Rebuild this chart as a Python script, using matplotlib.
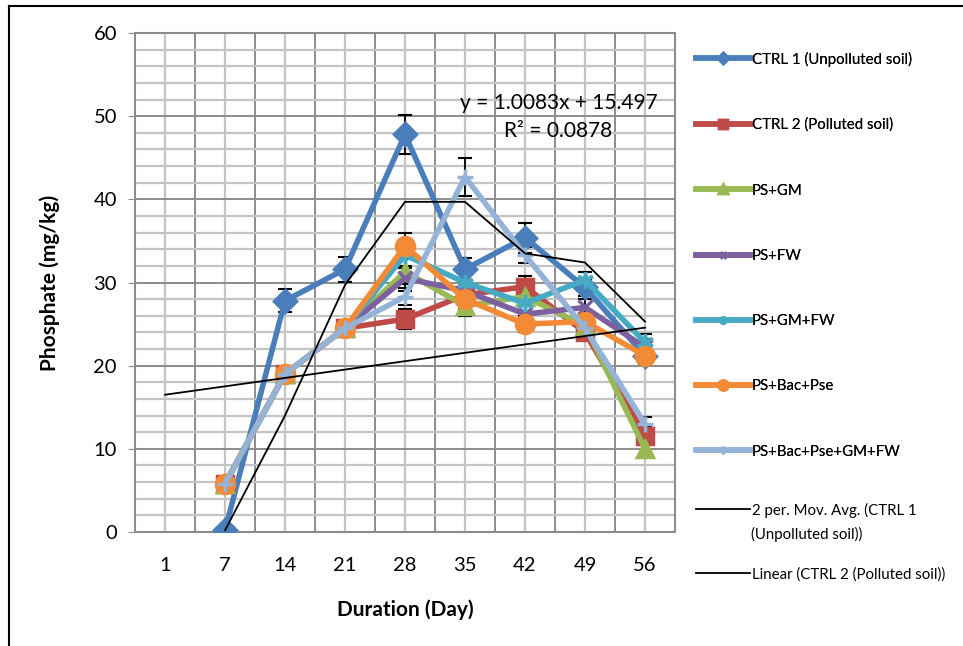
import numpy as np
import pandas as pd
import matplotlib
matplotlib.use("Agg")
import matplotlib.pyplot as plt
from matplotlib.ticker import MultipleLocator
from matplotlib.lines import Line2D

plt.rcParams['font.family'] = ['Lato', 'DejaVu Sans']

# data
days = ['1', '7', '14', '21', '28', '35', '42', '49', '56']
nan = np.nan
ctrl1 = [nan, 0.2, 27.8, 31.6, 47.8, 31.6, 35.4, 29.4, 21.2]
ctrl2 = [nan, 5.8, 19.0, 24.5, 25.6, 28.5, 29.5, 24.0, 11.6]
ps_gm = [nan, 5.8, 19.0, 24.5, 31.3, 27.2, 28.3, 24.8, 10.0]
ps_fw = [nan, 5.8, 19.0, 24.5, 30.5, 29.0, 26.2, 27.0, 22.2]
ps_gm_fw = [nan, 5.8, 19.0, 24.5, 33.3, 30.0, 27.5, 30.3, 22.8]
ps_bac_pse = [nan, 5.8, 19.0, 24.5, 34.4, 28.0, 25.0, 25.3, 21.2]
ps_all = [nan, 5.8, 19.0, 24.5, 28.3, 42.7, 33.3, 24.5, 13.0]

err_ctrl1 = [nan, 0.0, 1.4, 1.5, 2.4, 1.4, 1.8, 1.0, 1.0]
err_ctrl2 = [nan, 0.4, 0.4, 0.8, 1.2, 1.0, 1.3, 0.8, 1.0]
err_other = [nan, 0.4, 0.4, 0.8, 1.5, 1.2, 1.0, 1.0, 1.0]
err_all = [nan, 0.4, 0.4, 0.8, 1.0, 2.3, 1.0, 1.0, 0.8]

# linear trend on CTRL 2 (as printed on the chart)
slope, intercept = 1.0083, 15.497
r2 = 0.0878

series = [
    ('CTRL 1 (Unpolluted soil)', ctrl1, err_ctrl1, '#4A7EBB', 'D', 11),
    ('CTRL 2 (Polluted soil)', ctrl2, err_ctrl2, '#BE4B48', 's', 11),
    ('PS+GM', ps_gm, err_other, '#98B954', '^', 11),
    ('PS+FW', ps_fw, err_other, '#7D60A0', 'x', 10),
    ('PS+GM+FW', ps_gm_fw, err_other, '#46AAC5', (6, 2, 0), 12),
    ('PS+Bac+Pse', ps_bac_pse, err_other, '#F38A36', 'o', 13),
    ('PS+Bac+Pse+GM+FW', ps_all, err_all, '#95B3D7', '+', 12),
]

x = np.arange(len(days))

fig = plt.figure(figsize=(9.63, 6.46), dpi=100)
ax = fig.add_axes([135 / 963, 1 - 532 / 646, 540 / 963, 499 / 646])

handles = []
for name, vals, err, col, mk, ms in series:
    ax.errorbar(x, vals, yerr=err, fmt='none', ecolor='black', elinewidth=1.3,
                capsize=5, capthick=1.5, zorder=3)
    h, = ax.plot(x, vals, color=col, lw=4, marker=mk, ms=ms, mew=2.5,
                 mec=col, mfc=col, label=name, zorder=4)
    handles.append(h)

# trend lines
mov = pd.Series(ctrl1).rolling(2, min_periods=1).mean()
mov[0] = nan
h1, = ax.plot(x, mov, color='black', lw=1.3, zorder=5,
              label='2 per. Mov. Avg. (CTRL 1')
trend = slope * (x + 1) + intercept
h2, = ax.plot(x, trend, color='black', lw=1.3, zorder=5,
              label='Linear (CTRL 2 (Polluted soil))')

fig.text(559 / 963, 1 - 103 / 646, f'y = {slope}x + {intercept}', fontsize=15,
         ha='center', va='center')
fig.text(558 / 963, 1 - 131 / 646, f'R² = {r2}', fontsize=15,
         ha='center', va='center')

ax.set_xlim(-0.5, len(days) - 0.5)
ax.set_ylim(0, 60)
ax.set_xticks(x)
ax.set_xticklabels(days)
ax.set_xticks(x[:-1] + 0.5, minor=True)
ax.yaxis.set_major_locator(MultipleLocator(10))
ax.yaxis.set_minor_locator(MultipleLocator(2))

ax.grid(which='minor', color='#c4c4c4', lw=1.6, zorder=0)
ax.grid(which='major', axis='y', color='#8c8c8c', lw=1.4, zorder=1)
ax.grid(which='minor', axis='x', color='#8c8c8c', lw=1.4, zorder=1)
ax.grid(which='major', axis='x', color='#c4c4c4', lw=1.6, zorder=0)
ax.set_axisbelow(True)
for s in ax.spines.values():
    s.set_color('#8c8c8c')
    s.set_linewidth(1.5)

ax.tick_params(axis='y', which='major', length=5, color='#8c8c8c', labelsize=14.5, pad=8)
ax.tick_params(axis='y', which='minor', length=0)
ax.tick_params(axis='x', which='both', length=0, labelsize=14.5, pad=18)

ax.set_xlabel('Duration (Day)', fontsize=15, fontweight='bold', labelpad=18)
ax.set_ylabel('Phosphate (mg/kg)', fontsize=15, fontweight='bold', labelpad=24)

leg_kw = dict(loc='upper left', frameon=False, fontsize=10.8, handlelength=3.6,
              handletextpad=0.15, markerscale=0.5)
leg1 = fig.legend(handles=handles, bbox_to_anchor=(682 / 963, 1 - 38 / 646),
                  labelspacing=3.42, **leg_kw)
fig.legend(handles=[h1, h2], bbox_to_anchor=(682 / 963, 1 - 489 / 646),
           labelspacing=3.3, **leg_kw)
fig.add_artist(leg1)
fig.text(751 / 963, 1 - 534 / 646, '(Unpolluted soil))', fontsize=10.8,
         ha='left', va='center')

# outer border (left and top edges visible)
fig.add_artist(Line2D([9 / 963, 9 / 963], [0, 1 - 6 / 646], color='black', lw=1.5,
                      transform=fig.transFigure))
fig.add_artist(Line2D([9 / 963, 1], [1 - 6 / 646, 1 - 6 / 646], color='black', lw=1.5,
                      transform=fig.transFigure))

fig.savefig('out.png', dpi=100)
